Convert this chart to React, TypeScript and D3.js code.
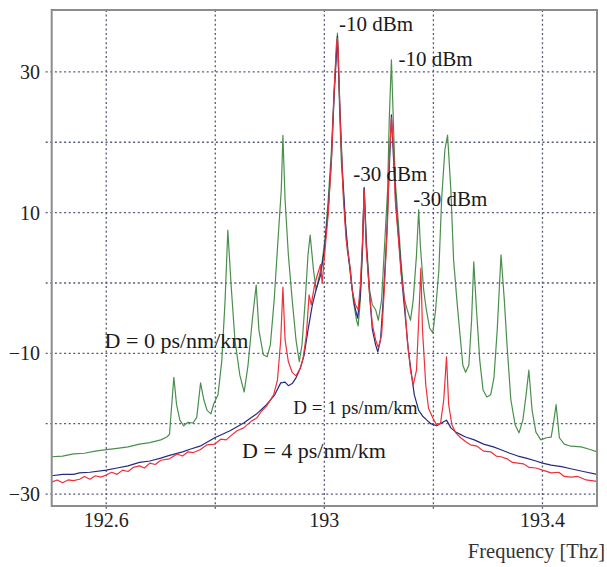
import React, { useEffect, useRef } from "react";
import { select, scaleLinear, line } from "d3";

const WIDTH = 607;
const HEIGHT = 567;

// axis ticks
const freqTicks = [192.6, 192.8, 193, 193.2, 193.4];
const freqLabels = ["192.6", "", "193", "", "193.4"];
const powerTicks = [30, 20, 10, 0, -10, -20, -30];
const powerLabels = ["30", "", "10", "", "\u221210", "", "\u221230"];

// spectrum, D = 0 ps/nm/km  [THz, dBm]
const spectrumD0: [number, number][] = [
  [192.5, -24.7], [192.52, -24.6], [192.54, -24.3], [192.56, -24.2], [192.58, -23.9],
  [192.6, -23.7], [192.62, -23.5], [192.64, -23.3], [192.661, -22.9], [192.68, -22.7],
  [192.7, -22.3], [192.711, -21.9],
  [192.716, -21.5], [192.724, -13.4], [192.729, -17.3], [192.735, -19.5], [192.742, -20.3],
  [192.75, -19.8], [192.759, -19.9], [192.766, -19.1], [192.773, -14.2], [192.779, -16.6],
  [192.785, -18.1], [192.792, -18.6], [192.797, -17.2], [192.805, -15.9], [192.812, -11.0],
  [192.818, -2.4], [192.823, 7.5], [192.829, -0.3], [192.836, -8.1], [192.845, -13.1],
  [192.853, -15.5], [192.86, -11.7], [192.868, -5.2], [192.875, -0.3], [192.88, -6.7],
  [192.888, -10.2], [192.895, -10.5], [192.901, -8.8], [192.908, -2.4], [192.915, 6.1],
  [192.921, 13.2], [192.924, 21.0], [192.928, 11.8], [192.934, 4.0], [192.941, -2.4],
  [192.948, -8.1], [192.954, -11.2], [192.959, -8.8], [192.965, -2.4], [192.97, 4.0],
  [192.974, 6.8], [192.98, 1.9], [192.985, -1.0], [192.991, 1.1], [192.996, 3.0],
  [193.002, 6.8], [193.007, 11.8], [193.013, 18.9], [193.018, 27.4], [193.024, 35.5],
  [193.028, 24.6], [193.031, 17.5], [193.037, 10.4], [193.042, 4.7], [193.048, 1.8],
  [193.053, -2.4], [193.059, -5.3], [193.062, -6.1], [193.066, -2.4], [193.07, 4.7],
  [193.073, 13.6], [193.077, 6.1], [193.083, -1.0], [193.088, -3.1], [193.094, -3.8],
  [193.099, -5.3], [193.105, -2.4], [193.11, 4.7], [193.116, 13.2], [193.119, 23.2],
  [193.123, 31.7], [193.127, 21.8], [193.13, 14.6], [193.136, 8.2], [193.141, 2.6],
  [193.147, -2.4], [193.152, -3.8], [193.158, -5.3], [193.163, -2.4], [193.169, 4.0],
  [193.173, 10.4], [193.176, 5.4], [193.182, -0.9], [193.187, -3.8], [193.193, -6.4],
  [193.199, -7.1], [193.204, -3.8], [193.21, 1.8], [193.215, 11.8], [193.221, 18.9],
  [193.226, 21.0], [193.232, 13.2], [193.237, 3.3], [193.243, -2.4], [193.248, -6.7],
  [193.254, -11.7], [193.259, -12.7], [193.265, -11.7], [193.27, -5.3], [193.274, 3.0],
  [193.279, -3.8], [193.285, -11.0], [193.291, -15.2], [193.298, -16.2], [193.305, -15.9],
  [193.311, -13.5], [193.317, -6.7], [193.324, 4.0], [193.33, -2.4], [193.335, -8.8],
  [193.342, -16.6], [193.35, -20.2], [193.357, -21.3], [193.364, -19.5], [193.37, -15.9],
  [193.375, -12.4], [193.381, -18.1], [193.388, -21.2], [193.397, -22.3], [193.407, -22.0],
  [193.416, -21.9], [193.421, -19.5], [193.425, -17.3], [193.431, -22.0], [193.44, -22.9],
  [193.452, -23.2], [193.471, -23.3], [193.489, -23.7], [193.5, -24.0],
];

// spectrum, D = 1 ps/nm/km
const spectrumD1: [number, number][] = [
  [192.5, -28.3], [192.51, -28.0], [192.52, -28.4], [192.53, -28.0], [192.54, -28.1],
  [192.551, -27.9], [192.56, -27.5], [192.57, -27.9], [192.58, -27.4], [192.59, -27.6],
  [192.6, -27.3], [192.61, -26.9], [192.62, -27.2], [192.63, -26.6], [192.64, -26.8],
  [192.65, -26.2], [192.661, -26.0], [192.67, -26.3], [192.68, -25.6], [192.69, -25.8],
  [192.7, -25.2], [192.716, -25.0], [192.73, -24.3], [192.74, -24.6], [192.75, -24.0],
  [192.76, -24.1], [192.772, -23.7], [192.785, -23.0], [192.799, -22.9], [192.81, -22.2],
  [192.82, -22.3], [192.827, -21.8], [192.84, -21.0], [192.852, -20.6], [192.865, -19.7],
  [192.876, -19.2], [192.885, -18.2], [192.894, -17.5], [192.907, -15.9], [192.914, -13.8],
  [192.92, -8.1], [192.924, -0.6],
  [192.928, -8.1], [192.934, -11.2], [192.941, -12.7], [192.948, -13.2], [192.956, -12.1],
  [192.961, -10.7], [192.967, -7.4], [192.972, -1.7], [192.976, -3.1], [192.982, -0.3],
  [192.987, 1.1], [192.993, 2.6], [192.996, 0.0], [193.002, 5.4], [193.007, 9.7],
  [193.013, 17.5], [193.018, 27.4], [193.022, 33.8], [193.024, 34.8], [193.026, 31.7],
  [193.029, 23.2], [193.035, 11.8], [193.04, 6.1], [193.046, 3.0], [193.051, -1.0],
  [193.057, -3.1], [193.062, -3.8], [193.066, -0.3], [193.07, 6.1], [193.073, 13.2],
  [193.077, 4.7], [193.083, -1.6], [193.088, -5.9], [193.094, -8.1], [193.099, -9.2],
  [193.105, -7.4], [193.11, -0.9], [193.116, 9.0], [193.119, 17.5], [193.123, 23.5],
  [193.127, 19.0], [193.13, 11.8], [193.136, 6.1], [193.141, 1.1], [193.147, -2.4],
  [193.152, -8.1], [193.158, -12.4], [193.163, -14.5], [193.169, -12.4], [193.173, -5.3],
  [193.177, 2.1], [193.18, -6.7], [193.186, -14.5], [193.191, -17.8], [193.199, -19.2],
  [193.206, -20.2], [193.213, -20.0], [193.219, -16.6], [193.224, -10.5], [193.228, -17.3],
  [193.234, -20.2], [193.241, -21.3], [193.25, -22.0], [193.26, -22.6], [193.268, -23.0],
  [193.28, -23.2], [193.292, -23.9], [193.305, -24.0], [193.315, -24.6], [193.324, -24.7],
  [193.335, -25.0], [193.345, -25.5], [193.355, -25.6], [193.365, -25.7], [193.375, -26.2],
  [193.388, -26.3], [193.4, -26.6], [193.416, -27.0], [193.43, -26.9], [193.44, -27.5],
  [193.452, -27.6], [193.465, -27.5], [193.48, -28.0], [193.5, -28.2],
];

// spectrum, D = 4 ps/nm/km
const spectrumD4: [number, number][] = [
  [192.5, -27.4], [192.52, -27.2], [192.54, -27.2], [192.551, -27.0], [192.57, -26.9],
  [192.6, -26.6], [192.62, -26.3], [192.64, -26.0], [192.661, -25.5], [192.68, -25.3],
  [192.7, -24.9], [192.716, -24.5], [192.74, -24.0], [192.755, -23.6],
  [192.772, -23.2], [192.799, -22.0], [192.827, -21.0], [192.852, -19.9], [192.876, -18.6],
  [192.894, -17.3], [192.909, -15.9], [192.92, -14.2], [192.928, -14.1], [192.934, -14.6],
  [192.941, -14.3], [192.948, -13.5], [192.956, -12.1], [192.963, -10.2], [192.97, -6.7],
  [192.978, -3.1], [192.985, -0.9], [192.993, 1.1], [193.0, 4.7], [193.007, 10.4],
  [193.013, 17.5], [193.018, 26.7], [193.024, 35.1], [193.028, 26.0], [193.033, 16.1],
  [193.039, 8.2], [193.044, 4.0], [193.05, -0.3], [193.055, -3.1], [193.061, -5.0],
  [193.066, -1.7], [193.07, 5.4], [193.073, 13.5], [193.077, 5.4], [193.083, -1.7],
  [193.088, -6.6], [193.094, -8.8], [193.098, -9.8], [193.103, -8.1], [193.108, -2.4],
  [193.114, 6.1], [193.119, 16.1], [193.123, 23.9], [193.127, 17.5], [193.132, 10.4],
  [193.138, 4.7], [193.143, -0.3], [193.149, -5.3], [193.154, -9.5], [193.16, -13.1],
  [193.165, -15.9], [193.173, -18.1], [193.18, -18.9], [193.188, -19.5], [193.195, -20.0],
  [193.206, -20.3], [193.217, -19.8], [193.224, -19.5], [193.232, -20.6], [193.241, -21.2],
  [193.259, -21.9], [193.275, -22.3], [193.292, -22.9], [193.31, -23.3], [193.324, -23.7],
  [193.34, -24.2], [193.355, -24.6], [193.37, -24.9], [193.388, -25.3], [193.4, -25.6],
  [193.416, -25.9], [193.435, -26.1], [193.452, -26.4], [193.475, -26.8], [193.5, -27.2],
];

// text annotations [THz, dBm]
const annotations = [
  { text: "-10 dBm", f: 193.027, p: 35.8, size: 21 },
  { text: "-10 dBm", f: 193.136, p: 30.9, size: 21 },
  { text: "-30 dBm", f: 193.053, p: 14.5, size: 21 },
  { text: "-30 dBm", f: 193.163, p: 10.9, size: 21 },
  { text: "D = 0 ps/nm/km", f: 192.597, p: -9.2, size: 22 },
  { text: "D = 1 ps/nm/km", f: 192.943, p: -18.6, size: 19 },
  { text: "D = 4 ps/nm/km", f: 192.849, p: -24.9, size: 22 },
];

const series = [
  { data: spectrumD0, color: "#4a8f4c" },
  { data: spectrumD4, color: "#262a7e" },
  { data: spectrumD1, color: "#ee3038" },
];

const FONT = '"Liberation Serif", "DejaVu Serif", serif';

function App() {
  const svgRef = useRef<SVGSVGElement>(null);

  useEffect(() => {
    const svg = select(svgRef.current);
    svg.selectAll("*").remove();

    const left = 51.7, right = 597, top = 10, bottom = 506;
    const xScale = scaleLinear().domain([192.5, 193.5]).range([left, right]);
    const yScale = scaleLinear().domain([38.8, -31.7]).range([top, bottom]);

    // grid
    const grid = svg.append("g").attr("stroke", "#555a78").attr("stroke-width", 1.3)
      .attr("stroke-dasharray", "2 2.6");
    grid.selectAll(".hgrid").data(powerTicks).join("line")
      .attr("x1", left - 6).attr("x2", right)
      .attr("y1", d => yScale(d)).attr("y2", d => yScale(d));
    grid.selectAll(".vgrid").data(freqTicks).join("line")
      .attr("y1", top).attr("y2", bottom + 4)
      .attr("x1", d => xScale(d)).attr("x2", d => xScale(d));

    // traces
    const lineGen = line<[number, number]>()
      .x(d => xScale(d[0]))
      .y(d => yScale(d[1]));
    svg.append("g").selectAll("path").data(series).join("path")
      .attr("d", s => lineGen(s.data))
      .attr("fill", "none")
      .attr("stroke", s => s.color)
      .attr("stroke-width", 1.2)
      .attr("stroke-linejoin", "round");

    // frame
    svg.append("rect")
      .attr("x", left).attr("y", top)
      .attr("width", right - left).attr("height", bottom - top)
      .attr("fill", "none").attr("stroke", "#8c8c8c").attr("stroke-width", 2);

    // tick labels
    svg.append("g").selectAll("text").data(freqTicks).join("text")
      .attr("x", d => xScale(d)).attr("y", 527)
      .attr("text-anchor", "middle")
      .style("font-family", FONT).style("font-size", "20px").attr("fill", "#222")
      .text((d, i) => freqLabels[i]);
    svg.append("g").selectAll("text").data(powerTicks).join("text")
      .attr("x", 40).attr("y", d => yScale(d) + 7)
      .attr("text-anchor", "end")
      .style("font-family", FONT).style("font-size", "20px").attr("fill", "#222")
      .text((d, i) => powerLabels[i]);

    svg.append("text")
      .attr("x", 605).attr("y", 558)
      .attr("text-anchor", "end")
      .style("font-family", FONT).style("font-size", "20.5px").attr("fill", "#333")
      .text("Frequency [Thz]");

    // annotations
    svg.append("g").selectAll("text").data(annotations).join("text")
      .attr("x", a => xScale(a.f)).attr("y", a => yScale(a.p))
      .style("font-family", FONT).style("font-size", a => a.size + "px").attr("fill", "#1a1a1a")
      .text(a => a.text);
  }, []);

  return (
    <svg ref={svgRef} width={WIDTH} height={HEIGHT}
      style={{ position: "absolute", left: 0, top: 0, background: "#fff" }} />
  );
}

export default App;
